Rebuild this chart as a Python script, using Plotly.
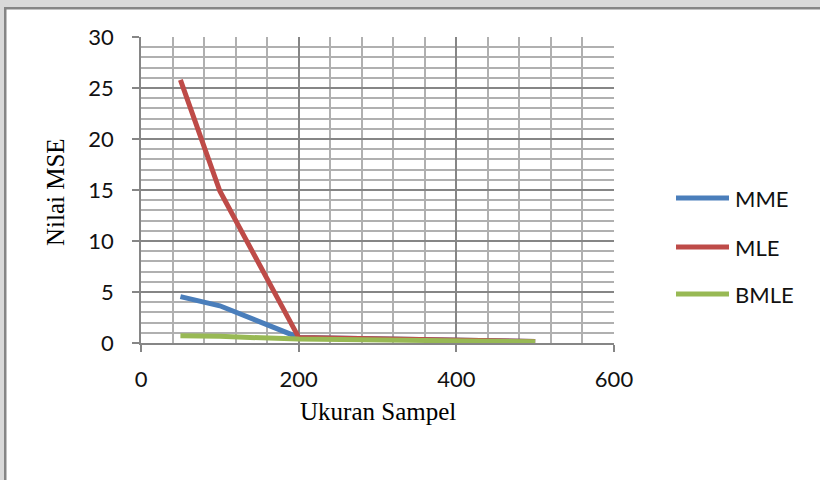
import plotly.graph_objects as go

# ---- data ----
sample_sizes = [50, 100, 200, 500]
mme = [4.55, 3.65, 0.55, 0.15]
mle = [25.8, 14.9, 0.55, 0.15]
bmle = [0.7, 0.65, 0.38, 0.13]
series_names = ["MME", "MLE", "BMLE"]
series_colors = ["#4a7ebb", "#be4b48", "#98b954"]
x_title = "Ukuran Sampel"
y_title = "Nilai MSE"

W, H = 820, 480
L, R, T, B = 141, 614, 37, 343  # plot area in px


def px_x(px):
    return (px - L) / (R - L)


def px_y(py):
    return (B - py) / (B - T)


fig = go.Figure()
for name, vals, col in zip(series_names, [mme, mle, bmle], series_colors):
    fig.add_trace(go.Scatter(x=sample_sizes, y=vals, mode="lines", name=name,
                             line=dict(color=col, width=5), showlegend=False))

major = "#868686"
minor = "#b0b0b0"
tickfont = dict(family="Lato", size=22, color="#111111")

fig.update_layout(
    width=W, height=H,
    margin=dict(l=L, r=W - R, t=T, b=H - B),
    paper_bgcolor="white", plot_bgcolor="white",
    xaxis=dict(range=[0, 600], dtick=200, tick0=0, showgrid=True, gridcolor=major, gridwidth=1.5,
               minor=dict(dtick=40, showgrid=True, gridcolor=minor, gridwidth=1.5),
               showline=True, linecolor=major, linewidth=1.5, ticks="outside", ticklen=7,
               tickcolor=major, tickwidth=1.5, tickfont=tickfont, ticklabelstandoff=9,
               zeroline=False, fixedrange=True),
    yaxis=dict(range=[0, 30], dtick=5, tick0=0, showgrid=True, gridcolor=major, gridwidth=1.5,
               minor=dict(dtick=1, showgrid=True, gridcolor=minor, gridwidth=1.5),
               showline=True, linecolor=major, linewidth=1.5, ticks="outside", ticklen=7,
               tickcolor=major, tickwidth=1.5, tickfont=tickfont, ticklabelstandoff=14,
               zeroline=False, fixedrange=True),
)

# axis titles
fig.add_annotation(text=x_title, xref="paper", yref="paper", x=px_x(378), y=px_y(411),
                   showarrow=False, font=dict(family="Liberation Serif", size=25, color="black"),
                   xanchor="center", yanchor="middle")
fig.add_annotation(text=y_title, xref="paper", yref="paper", x=px_x(55), y=px_y(192),
                   showarrow=False, textangle=-90,
                   font=dict(family="Liberation Serif", size=25, color="black"),
                   xanchor="center", yanchor="middle")

# legend (drawn manually)
legend_y = [198, 247, 294]
for name, col, ly in zip(series_names, series_colors, legend_y):
    fig.add_shape(type="line", xref="paper", yref="paper", x0=px_x(676), x1=px_x(729),
                  y0=px_y(ly), y1=px_y(ly), line=dict(color=col, width=5))
    fig.add_annotation(text=name, xref="paper", yref="paper", x=px_x(733), y=px_y(ly),
                       showarrow=False, xanchor="left", yanchor="middle",
                       font=dict(family="Lato", size=22, color="#111111"))

# page frame (scan border)
fig.add_shape(type="rect", xref="paper", yref="paper", x0=px_x(0), x1=px_x(W),
              y0=px_y(7), y1=px_y(0), fillcolor="#d9d9d9", line_width=0, layer="above")
fig.add_shape(type="rect", xref="paper", yref="paper", x0=px_x(0), x1=px_x(4),
              y0=px_y(H), y1=px_y(0), fillcolor="#d9d9d9", line_width=0, layer="above")
fig.add_shape(type="rect", xref="paper", yref="paper", x0=px_x(4), x1=px_x(W),
              y0=px_y(9.5), y1=px_y(7), fillcolor="#858585", line_width=0, layer="above")
fig.add_shape(type="rect", xref="paper", yref="paper", x0=px_x(4), x1=px_x(6.5),
              y0=px_y(H), y1=px_y(7), fillcolor="#858585", line_width=0, layer="above")

fig.write_html("out.html")
